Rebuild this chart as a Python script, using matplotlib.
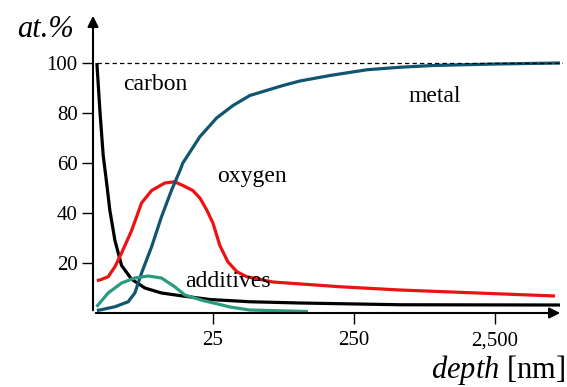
import matplotlib
matplotlib.use("Agg")
import matplotlib.pyplot as plt

# Fonts: Times-like serif
plt.rcParams['font.family'] = ['Liberation Serif', 'DejaVu Serif']
plt.rcParams['mathtext.fontset'] = 'custom'
plt.rcParams['mathtext.rm'] = 'Liberation Serif'
plt.rcParams['mathtext.it'] = 'Liberation Serif:italic'

# Data (depth in nm, content in at.%)
carbon_depth = [3.76, 3.95, 4.17, 4.41, 4.65, 5.05, 5.63, 6.63, 8.23, 10.8, 15.3, 23.8, 45.7, 103.5, 530, 7230]
carbon = [100, 81, 63, 52, 41, 29, 19, 13.5, 10, 8, 6.8, 5.4, 4.5, 4.0, 3.3, 3.2]

oxygen_depth = [3.76, 3.95, 4.52, 5.05, 5.63, 6.63, 7.80, 9.19, 11.4, 13.4, 15.3, 18.0, 20.2,
                21.2, 22.7, 25.0, 28.0, 31.9, 37.0, 43.5, 66.6, 199, 530, 6663]
oxygen = [13, 13.2, 14.5, 18.5, 24, 33, 44, 49, 52, 52.5, 51, 49, 46,
          44, 41, 36, 27, 20.5, 16.5, 14.5, 12.4, 10.5, 9.2, 6.8]

metal_depth = [3.76, 3.95, 5.05, 6.27, 6.99, 7.80, 9.19, 10.8, 12.7, 14.6, 15.3, 20.2, 26.55,
               34.7, 45.7, 78.4, 103.5, 169, 309, 530, 908, 2500, 7230]
metal = [1, 1.2, 2.5, 4.5, 8, 16, 26.5, 38.5, 49, 57, 60, 70.5, 78,
         83, 87, 91, 92.8, 95, 97.3, 98.3, 99, 99.6, 100]

additives_depth = [3.74, 4.52, 5.63, 6.99, 8.69, 10.8, 13.4, 15.8, 21.2, 28.0, 33.0, 45.7, 118]
additives = [2.5, 8, 12, 14, 14.8, 14, 10.5, 7.2, 5.0, 3.4, 2.4, 1.2, 0.6]

x_ticks = [25, 250, 2500]
x_tick_labels = ["25", "250", "2,500"]
y_ticks = [20, 40, 60, 80, 100]

W, H = 567, 387
fig = plt.figure(figsize=(W / 100, H / 100), dpi=100)
ax = fig.add_axes([93 / W, (H - 313) / H, (563 - 93) / W, 300 / H])

lw = 2.3
style = dict(lw=lw, solid_joinstyle='round', solid_capstyle='butt')
ax.plot(carbon_depth, carbon, color='black', **style)
ax.plot(oxygen_depth, oxygen, color='#ee1111', **style)
ax.plot(metal_depth, metal, color='#11566e', **style)
ax.plot(additives_depth, additives, color='#2a9b80', **style)

# dashed 100 % line
ax.plot([3.76, 7590], [100, 100], color='black', lw=0.9, dashes=(3.5, 2.5))

ax.set_xscale('log')
ax.set_xlim(3.53, 7590)
ax.set_ylim(0, 120)
ax.minorticks_off()
ax.set_xticks(x_ticks)
ax.set_xticklabels(x_tick_labels)
ax.set_yticks(y_ticks)
ax.tick_params(axis='both', direction='out', length=8, width=1, labelsize=15)
ax.tick_params(axis='x', pad=5)
ax.tick_params(axis='y', pad=3)

for s in ['top', 'right', 'left', 'bottom']:
    ax.spines[s].set_visible(False)

# axes with arrows
ax.annotate('', xy=(1, 0), xytext=(0, 0), xycoords='axes fraction',
            arrowprops=dict(arrowstyle='-|>', color='black', lw=1.5, mutation_scale=16))
ax.annotate('', xy=(0, 1), xytext=(0, 0), xycoords='axes fraction',
            arrowprops=dict(arrowstyle='-|>', color='black', lw=1.5, mutation_scale=16))

def px(x, y):
    return x / W, 1 - y / H

fig.text(*px(155, 90), 'carbon', ha='center', va='baseline', fontsize=17)
fig.text(*px(435, 102), 'metal', ha='center', va='baseline', fontsize=17)
fig.text(*px(252, 182), 'oxygen', ha='center', va='baseline', fontsize=17)
fig.text(*px(228, 287), 'additives', ha='center', va='baseline', fontsize=17)
fig.text(*px(45, 37), 'at.%', ha='center', va='baseline', fontsize=22, style='italic')
fig.text(*px(565, 378), r'$\it{depth}$ [nm]', ha='right', va='baseline', fontsize=22)

fig.savefig('out.png', dpi=100)
